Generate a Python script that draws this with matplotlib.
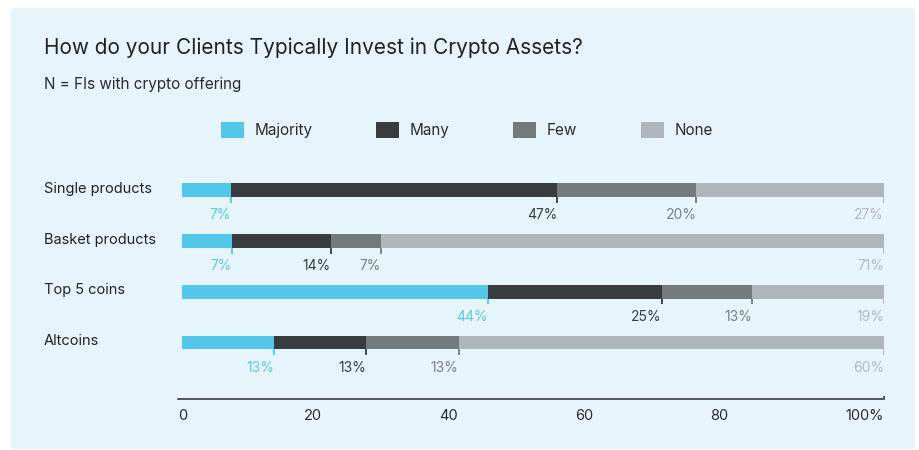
import numpy as np
import matplotlib.pyplot as plt
import matplotlib.transforms as mtransforms
from matplotlib.patches import FancyBboxPatch, Patch

plt.rcParams['font.family'] = ['Inter', 'DejaVu Sans']

# Data
categories = ["Single products", "Basket products", "Top 5 coins", "Altcoins"]
series = ["Majority", "Many", "Few", "None"]
majority = [7, 7, 44, 13]
many = [47, 14, 25, 13]
few = [20, 7, 13, 13]
none = [27, 71, 19, 60]
x_tick_labels = ["0", "20", "40", "60", "80", "100%"]

bar_colors = ["#52c7ea", "#383c3f", "#737a7c", "#adb7bb"]
label_colors = ["#5cc8e8", "#3a3d40", "#7b8083", "#b3babd"]

W, H = 920, 450
fig = plt.figure(figsize=(W / 100, H / 100), dpi=100)
fig.patch.set_facecolor("white")

# light blue panel
panel = FancyBboxPatch((11 / W, 1 - 449 / H), 904 / W, 441 / H,
                       boxstyle="round,pad=0,rounding_size=0.006",
                       transform=fig.transFigure, facecolor="#e6f5fb",
                       edgecolor="none", zorder=-5)
fig.patches.append(panel)

fig.text(44 / W, 1 - 48 / H, "How do your Clients Typically Invest in Crypto Assets?",
         fontsize=15, color="#222222", va="center", ha="left")
fig.text(44 / W, 1 - 85 / H, "N = FIs with crypto offering",
         fontsize=11, color="#2b2b2b", va="center", ha="left")

# axes: left edge at 178 px, x=0 at 182 px, x=100 at 884 px
ax = fig.add_axes([178 / W, 1 - 399 / H, 706 / W, 229 / H])
ax.set_facecolor("none")
ax.set_zorder(2)

values = np.array([majority, many, few, none], dtype=float)
shares = values / values.sum(axis=0) * 100
ends = np.cumsum(shares, axis=0)
starts = ends - shares

y = np.arange(len(categories))
bar_h = 0.27
for k in range(len(series)):
    ax.barh(y, shares[k], left=starts[k], height=bar_h, color=bar_colors[k],
            label=series[k], zorder=3)
    for i in range(len(categories)):
        xe = ends[k, i]
        ax.plot([xe, xe], [y[i], y[i] + bar_h / 2 + 0.11], color=bar_colors[k],
                lw=1.3, zorder=2, solid_capstyle="butt")
        ax.text(xe, y[i] + 0.49, f"{int(values[k, i])}%", ha="right", va="center",
                fontsize=10, color=label_colors[k])

# category names, x in figure coords, y in data coords
cat_trans = mtransforms.blended_transform_factory(fig.transFigure, ax.transData)
for i, cat in enumerate(categories):
    ax.text(44 / W, y[i] - 0.03, cat, transform=cat_trans, clip_on=False,
            fontsize=10.5, color="#222222", ha="left", va="center")

ax.set_xlim(-0.57, 100)
ax.set_ylim(4.11, -0.40)
ax.set_yticks([])
ax.set_xticks([])
for s in ["top", "right", "left"]:
    ax.spines[s].set_visible(False)
ax.spines["bottom"].set_color("#3a3d40")
ax.spines["bottom"].set_linewidth(1.2)
# small end tick at the right of the axis line
ax.plot([1, 1], [0, 0.012], transform=ax.transAxes, color="#3a3d40", lw=1.2,
        clip_on=False, solid_capstyle="butt")

# x labels spread edge to edge along the axis line (space-between)
tick_texts = [ax.text(0, -0.075, lab, transform=ax.transAxes, fontsize=10.5,
                      color="#2b2b2b", ha="left", va="center")
              for lab in x_tick_labels]
fig.canvas.draw()
renderer = fig.canvas.get_renderer()
ax_px = ax.get_window_extent(renderer)
widths = [t.get_window_extent(renderer).width for t in tick_texts]
gap = (ax_px.width - sum(widths)) / (len(widths) - 1)
pos = ax_px.x0
for t, w in zip(tick_texts, widths):
    t.set_x((pos - ax_px.x0) / ax_px.width)
    pos += w + gap

handles = [Patch(facecolor=c, edgecolor="none") for c in bar_colors]
fig.legend(handles, series, loc="center", bbox_to_anchor=(467 / W, 1 - 130 / H),
           ncol=4, frameon=False, fontsize=11, handlelength=1.5, handleheight=1.25,
           handletextpad=0.7, columnspacing=4.15, borderpad=0, labelcolor="#2b2b2b")

fig.savefig("out.png", dpi=100)
